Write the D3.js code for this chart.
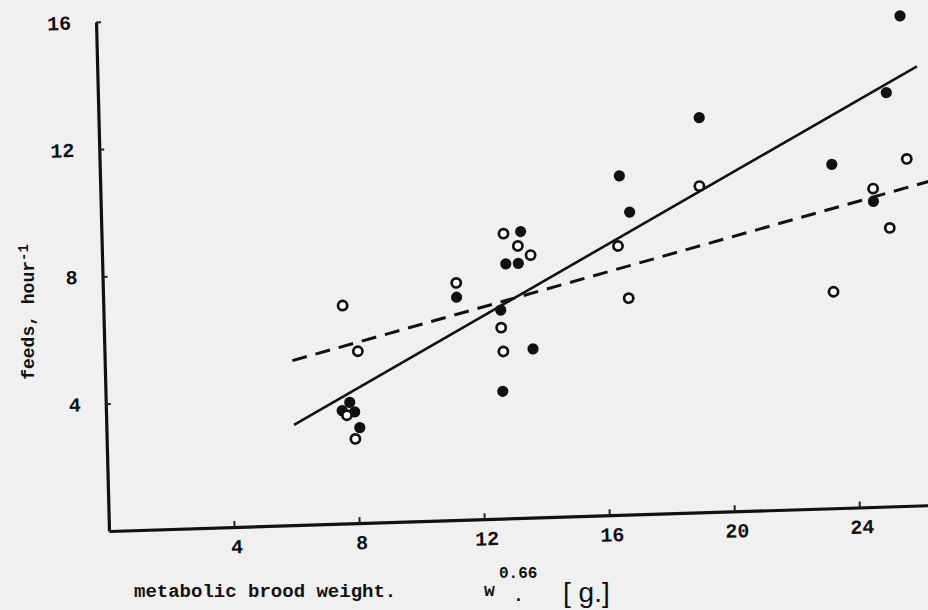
<!DOCTYPE html>
<html>
<head>
<meta charset="utf-8">
<script src="https://cdn.jsdelivr.net/npm/d3@7"></script>
<style>
  html, body { margin: 0; padding: 0; background: #f0f0f0; }
  svg { display: block; }
  text { font-family: "Liberation Mono", "DejaVu Sans Mono", monospace; font-weight: bold; fill: #111; }
</style>
</head>
<body>
<svg id="chart" width="928" height="610"></svg>
<script>
// ---- data ----
const filledX = [25.7, 25.2, 23.4, 24.7, 19.2, 16.6, 16.9, 11.3, 13.4, 12.9, 13.3, 12.7, 13.7, 12.7, 7.8, 7.55, 7.95, 8.1];
const filledY = [15.4, 13.0, 10.8, 9.6, 12.4, 10.65, 9.5, 7.0, 9.0, 8.0, 8.0, 6.55, 5.3, 4.0, 3.8, 3.55, 3.5, 3.0];
const openX = [25.8, 24.7, 25.2, 23.35, 19.15, 16.5, 16.8, 11.3, 12.85, 13.3, 13.7, 12.7, 12.75, 7.65, 8.1, 7.7, 7.95];
const openY = [10.9, 10.0, 8.75, 6.8, 10.25, 8.45, 6.8, 7.45, 8.95, 8.55, 8.25, 6.0, 5.25, 6.85, 5.4, 3.4, 2.65];
const solidLineX = [6.0, 26.2];
const solidLineY = [3.15, 13.8];
const dashedLineX = [6.0, 26.6];
const dashedLineY = [5.17, 10.2];
const xTicks = [4, 8, 12, 16, 20, 24];
const yTicks = [4, 8, 12, 16];

const svg = d3.select("#chart");

// scanned page is slightly skewed: plot group uses an affine transform
const g = svg.append("g")
  .attr("transform", "matrix(0.9995,-0.0314,0.0255,1,109,531)");

const x = d3.scaleLinear().domain([0, 26.6]).range([0, 26.6 * 31.28]);
const y = d3.scaleLinear().domain([0, 16]).range([0, -509]);

// axes
const xAxis = d3.axisBottom(x).tickValues(xTicks).tickSizeInner(-6).tickSizeOuter(0).tickPadding(12).tickFormat(d3.format("d"));
const yAxis = d3.axisLeft(y).tickValues(yTicks).tickSizeInner(-5).tickSizeOuter(0).tickPadding(25).tickFormat(d3.format("d"));

const gx = g.append("g").call(xAxis);
const gy = g.append("g").call(yAxis);
[gx, gy].forEach(a => {
  a.select(".domain").attr("stroke", "#111").attr("stroke-width", 3.2);
  a.selectAll(".tick line").attr("stroke", "#222").attr("stroke-width", 2);
  a.selectAll(".tick text").style("font-family", "'Liberation Mono', monospace").style("font-weight", "bold").style("font-size", "20px").attr("fill", "#111");
});
gx.selectAll(".tick text").attr("dx", "0.1em");

// regression lines
const line = d3.line().x(d => x(d[0])).y(d => y(d[1]));
g.append("path")
  .datum(solidLineX.map((v, i) => [v, solidLineY[i]]))
  .attr("d", line).attr("fill", "none").attr("stroke", "#111").attr("stroke-width", 2.6);
g.append("path")
  .datum(dashedLineX.map((v, i) => [v, dashedLineY[i]]))
  .attr("d", line).attr("fill", "none").attr("stroke", "#111").attr("stroke-width", 3)
  .attr("stroke-dasharray", "15 9");

// points
g.append("g").selectAll("circle")
  .data(filledX.map((v, i) => [v, filledY[i]]))
  .join("circle")
  .attr("cx", d => x(d[0])).attr("cy", d => y(d[1]))
  .attr("r", 5.6).attr("fill", "#111");
g.append("g").selectAll("circle")
  .data(openX.map((v, i) => [v, openY[i]]))
  .join("circle")
  .attr("cx", d => x(d[0])).attr("cy", d => y(d[1]))
  .attr("r", 4.6).attr("fill", "#fafafa").attr("stroke", "#111").attr("stroke-width", 2.7);

// y axis title
const yt = svg.append("text")
  .attr("transform", "translate(34,312) rotate(-90)")
  .attr("text-anchor", "middle")
  .style("font-size", "18px");
yt.append("tspan").text("feeds, hour");
yt.append("tspan").attr("dy", "-0.45em").style("font-size", "14px").text("-1");

// x axis title
svg.append("text").attr("x", 134).attr("y", 597).style("font-size", "19px").text("metabolic brood weight.");
svg.append("text").attr("x", 484).attr("y", 596).style("font-size", "18px").text("w");
svg.append("text").attr("x", 499).attr("y", 578).style("font-size", "16px").text("0.66");
svg.append("text").attr("x", 513).attr("y", 601).style("font-size", "18px").text(".");
svg.append("text").attr("x", 563).attr("y", 602)
  .style("font-family", "'Liberation Sans', Arial, sans-serif").style("font-weight", "normal")
  .style("font-size", "28px").text("[ g.]");
</script>
</body>
</html>
